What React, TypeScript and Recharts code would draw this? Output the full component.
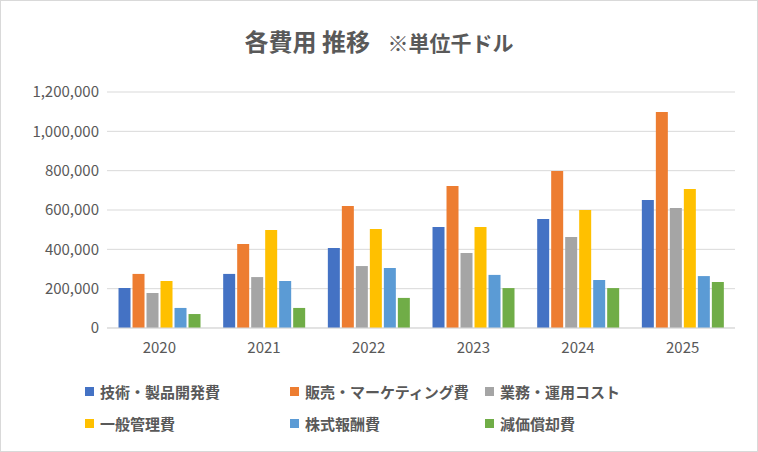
import React from 'react';
import { BarChart, Bar, XAxis, YAxis, CartesianGrid } from 'recharts';

const years = ['2020', '2021', '2022', '2023', '2024', '2025'];
const seriesNames = ['技術・製品開発費', '販売・マーケティング費', '業務・運用コスト', '一般管理費', '株式報酬費', '減価償却費'];
const colors = ['#4472C4', '#ED7D31', '#A5A5A5', '#FFC000', '#5B9BD5', '#70AD47'];
const devCost = [203000, 275000, 407000, 513000, 554000, 651000];
const salesCost = [275000, 427000, 620000, 722000, 798000, 1098000];
const opsCost = [178000, 259000, 315000, 381000, 463000, 610000];
const adminCost = [239000, 498000, 503000, 513000, 600000, 707000];
const stockComp = [102000, 239000, 305000, 270000, 244000, 264000];
const depreciation = [71000, 102000, 153000, 203000, 203000, 234000];
const yTicks = [0, 200000, 400000, 600000, 800000, 1000000, 1200000];

const allSeries = [devCost, salesCost, opsCost, adminCost, stockComp, depreciation];
const data = years.map((y, i) => {
  const row: Record<string, string | number> = { year: y };
  seriesNames.forEach((n, k) => { row[n] = allSeries[k][i]; });
  return row;
});

const font = '"Noto Sans CJK JP", "Noto Sans", sans-serif';

export default function App() {
  return (
    <div style={{ position: 'absolute', left: 0, top: 0, width: 758, height: 452, background: '#fff', fontFamily: font, boxSizing: 'border-box', border: '1px solid #D9D9D9' }}>
      <div style={{ position: 'absolute', top: 22, width: '100%', textAlign: 'center', fontSize: 24, color: '#595959', fontWeight: 600 }}>
        各費用 推移 <span style={{ fontSize: 21, marginLeft: 12 }}>※単位千ドル</span>
      </div>
      <BarChart width={756} height={450} data={data} margin={{ top: 91, right: 22, bottom: 93, left: 10 }} barCategoryGap="11%" barGap={2}>
        <CartesianGrid vertical={false} stroke="#D9D9D9" />
        <XAxis dataKey="year" tickLine={false} axisLine={{ stroke: '#D9D9D9' }} tick={{ fill: '#595959', fontSize: 15 }} dy={6} />
        <YAxis domain={[0, 1200000]} ticks={yTicks} width={96} tickLine={false} axisLine={false}
          tick={{ fill: '#595959', fontSize: 15 }} tickFormatter={(v: number) => v.toLocaleString('en-US')} />
        {seriesNames.map((n, k) => (
          <Bar key={n} dataKey={n} fill={colors[k]} isAnimationActive={false} />
        ))}
      </BarChart>
      {seriesNames.map((n, k) => (
        <div key={n} style={{ position: 'absolute', left: [84, 289, 484][k % 3], top: k < 3 ? 380 : 412, display: 'flex', alignItems: 'center', fontSize: 15, color: '#595959', fontWeight: 600 }}>
          <span style={{ width: 9, height: 9, background: colors[k], marginRight: 6, display: 'inline-block' }} />
          {n}
        </div>
      ))}
    </div>
  );
}
